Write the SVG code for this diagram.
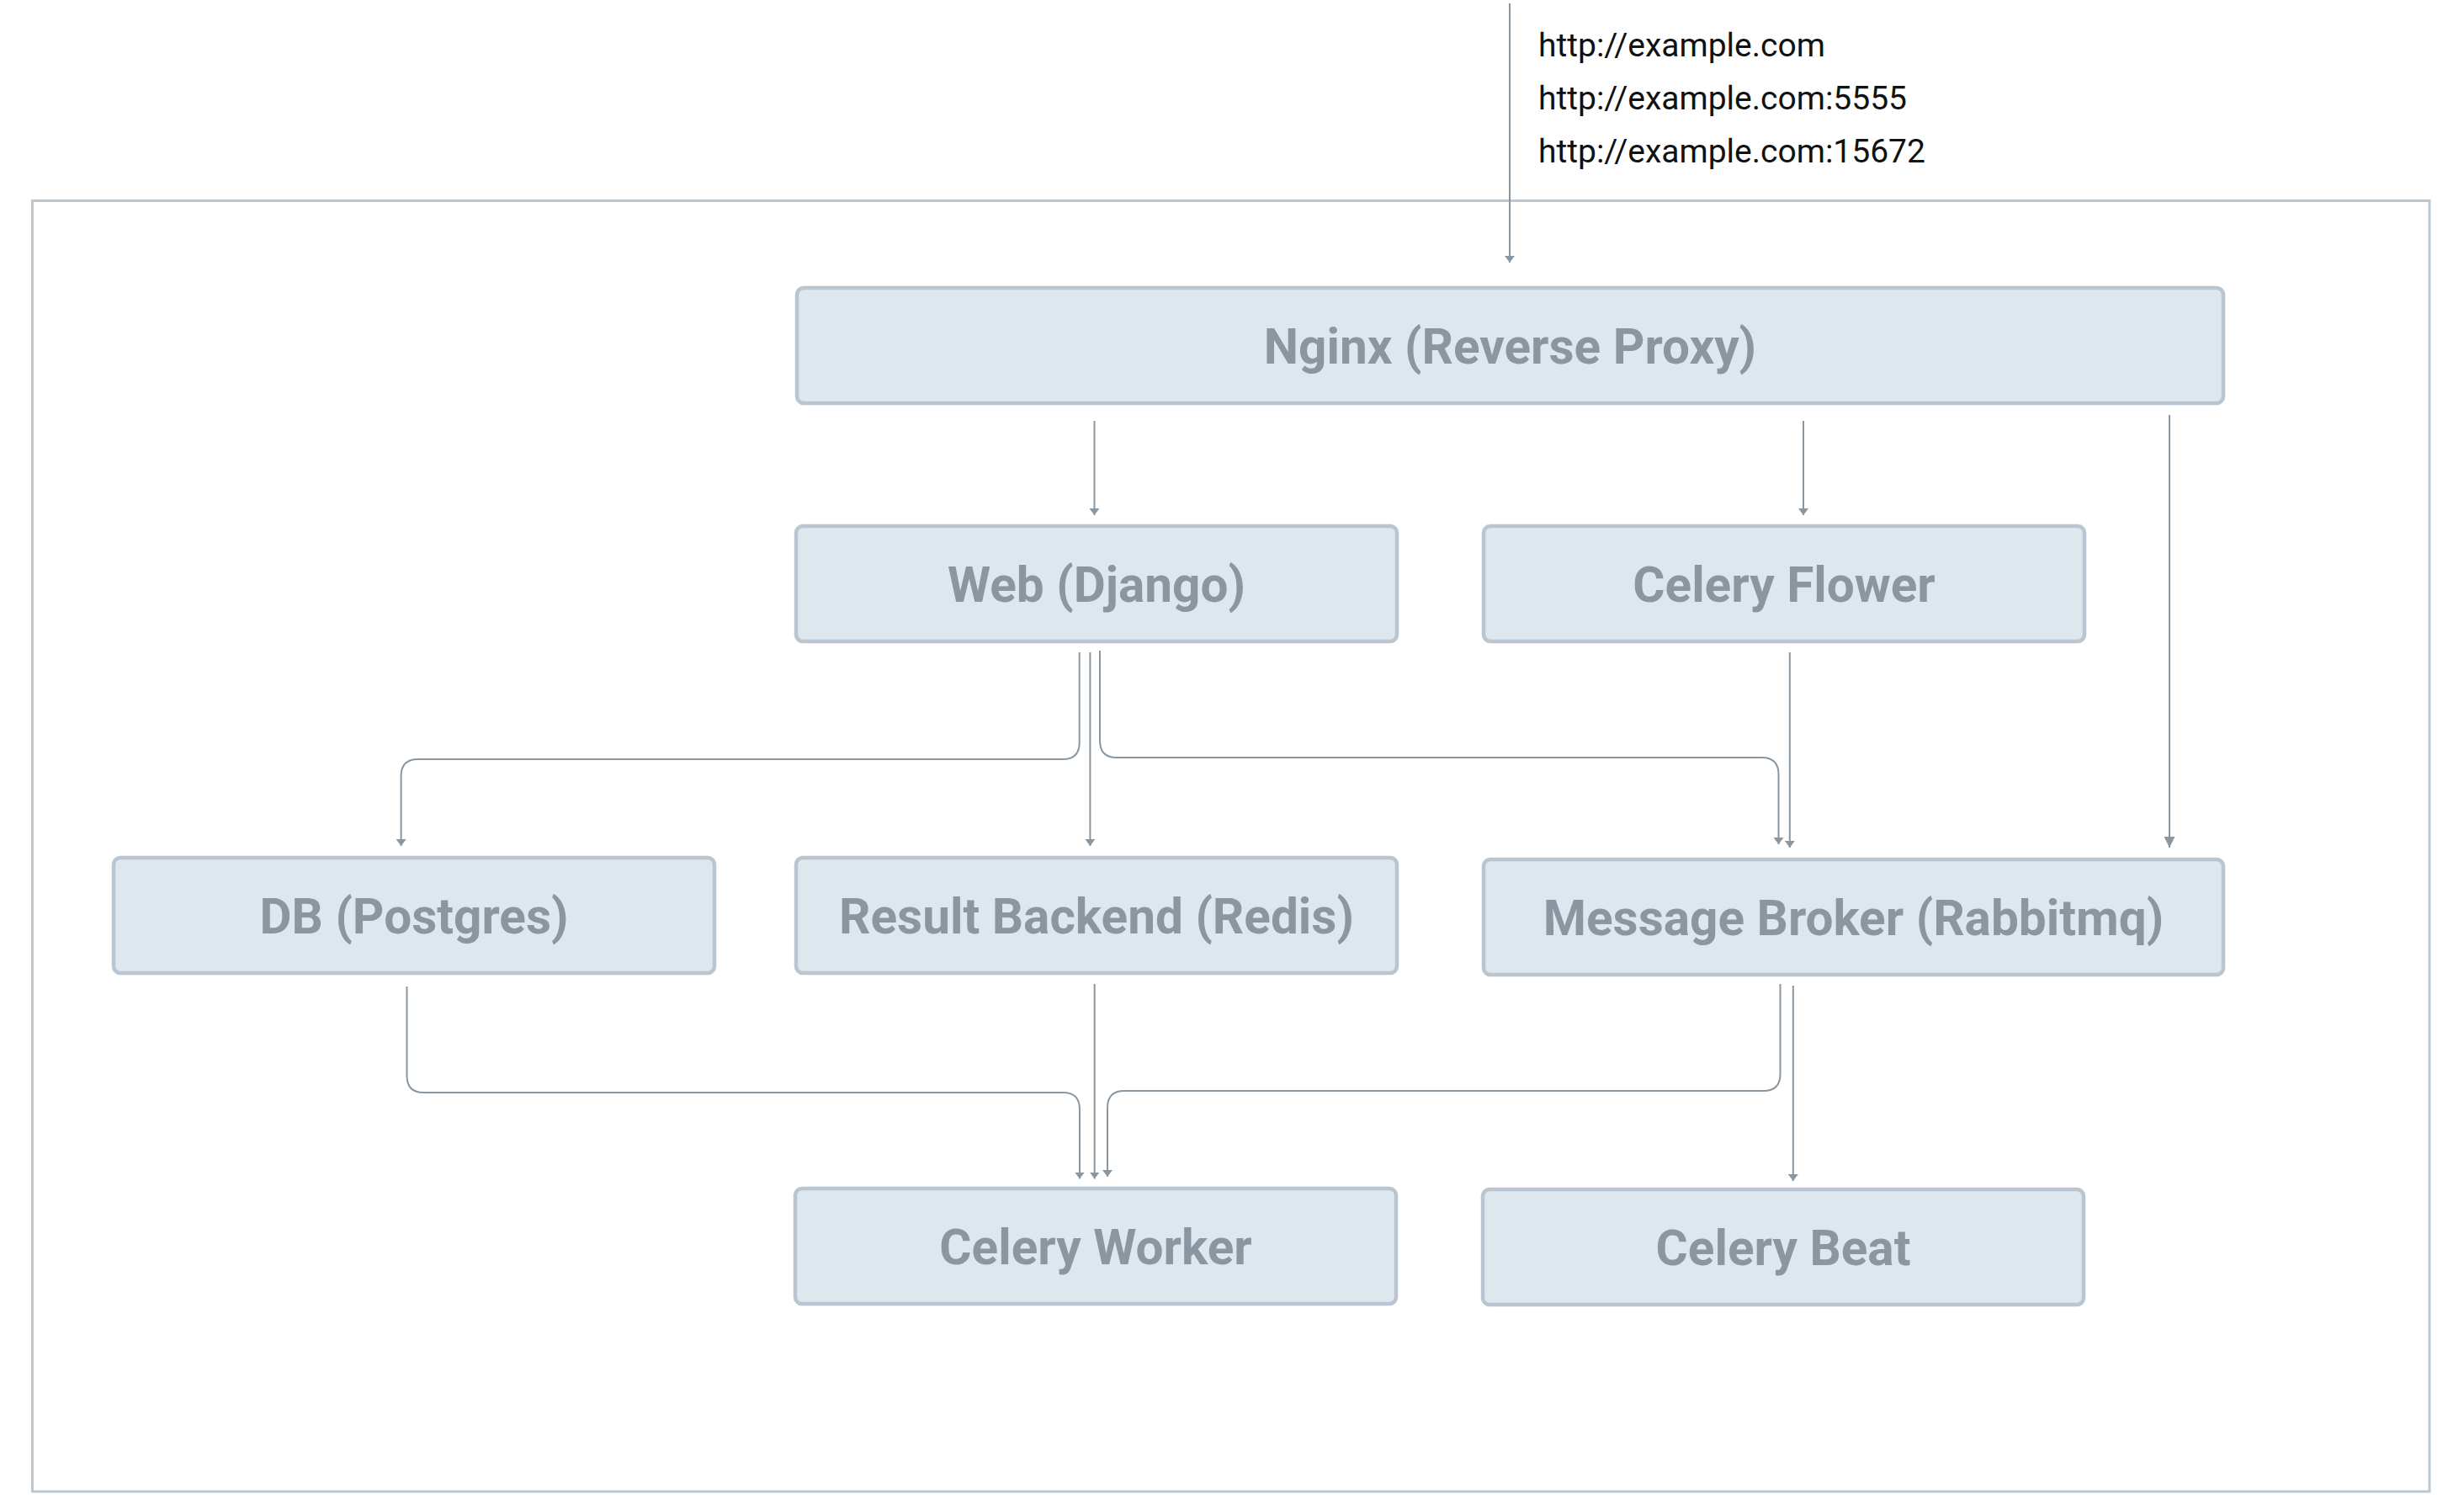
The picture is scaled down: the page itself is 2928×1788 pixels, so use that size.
<svg xmlns="http://www.w3.org/2000/svg" width="2928" height="1788" viewBox="0 0 2928 1788">
<style>
.frame{fill:none;stroke:#bcc7d1;stroke-width:3}
.node rect{fill:#dee6ee;stroke:#b9c5d0;stroke-width:4.5}
.node text{font-family:Roboto,"Liberation Sans",sans-serif;font-weight:700;font-size:58.5px;fill:#8a97a1;text-anchor:middle}
.url{font-family:Roboto,"Liberation Sans",sans-serif;font-size:39px;fill:#111}
.conn path{fill:none;stroke:#8a97a1;stroke-width:2;marker-end:url(#ah)}
.conn path.big{marker-end:url(#ahb)}
</style>
<defs>
<marker id="ah" markerUnits="userSpaceOnUse" viewBox="0 0 8 12" refX="8" refY="6" markerWidth="8" markerHeight="12" orient="auto"><path d="M0,0 L8,6 L0,12 z" fill="#8a97a1"/></marker>
<marker id="ahb" markerUnits="userSpaceOnUse" viewBox="0 0 13 13" refX="13" refY="6.5" markerWidth="13" markerHeight="13" orient="auto"><path d="M0,0 L13,6.5 L0,13 z" fill="#8a97a1"/></marker>
</defs>
<rect width="2928" height="1788" fill="#fff"/>
<rect class="frame" x="38.5" y="238.5" width="2848.5" height="1533.5"/>
<g id="urls">
<text class="url" x="1828" y="67">http://example.com</text>
<text class="url" x="1828" y="130">http://example.com:5555</text>
<text class="url" x="1828" y="193">http://example.com:15672</text>
</g>
<g id="connectors" class="conn">
<path d="M1794,4 V312"/>
<path d="M1300.5,500 V612"/>
<path d="M2143,500 V612"/>
<path class="big" d="M2578,493 V1007"/>
<path d="M1282.7,775 V882 Q1282.7,902 1262.7,902 H496.6 Q476.6,902 476.6,922 V1005"/>
<path d="M1295.4,775 V1005"/>
<path d="M1307,773 V880 Q1307,900 1327,900 H2093.5 Q2113.5,900 2113.5,920 V1003"/>
<path d="M2126.8,775 V1007"/>
<path d="M483.5,1172 V1278 Q483.5,1298 503.5,1298 H1263 Q1283,1298 1283,1318 V1400.5"/>
<path d="M1300.7,1169 V1400.5"/>
<path d="M2115.5,1169 V1276 Q2115.5,1296 2095.5,1296 H1336 Q1316,1296 1316,1316 V1398"/>
<path d="M2130.8,1171 V1403"/>
</g>
<g id="nginx" class="node"><rect x="947" y="342" width="1695" height="137" rx="8"/><text x="1794.5" y="431.5">Nginx (Reverse Proxy)</text></g>
<g id="web" class="node"><rect x="946" y="625" width="714" height="137" rx="8"/><text x="1303" y="714.5">Web (Django)</text></g>
<g id="flower" class="node"><rect x="1763" y="625" width="714" height="137" rx="8"/><text x="2120" y="714.5">Celery Flower</text></g>
<g id="db" class="node"><rect x="135" y="1019" width="714" height="137" rx="8"/><text x="492" y="1108.5">DB (Postgres)</text></g>
<g id="redis" class="node"><rect x="946" y="1019" width="714" height="137" rx="8"/><text x="1303" y="1108.5">Result Backend (Redis)</text></g>
<g id="rabbitmq" class="node"><rect x="1763" y="1021" width="879" height="137" rx="8"/><text x="2202.5" y="1110.5">Message Broker (Rabbitmq)</text></g>
<g id="worker" class="node"><rect x="945" y="1412" width="714" height="137" rx="8"/><text x="1302" y="1501.5">Celery Worker</text></g>
<g id="beat" class="node"><rect x="1762" y="1413" width="714" height="137" rx="8"/><text x="2119" y="1502.5">Celery Beat</text></g>
</svg>
